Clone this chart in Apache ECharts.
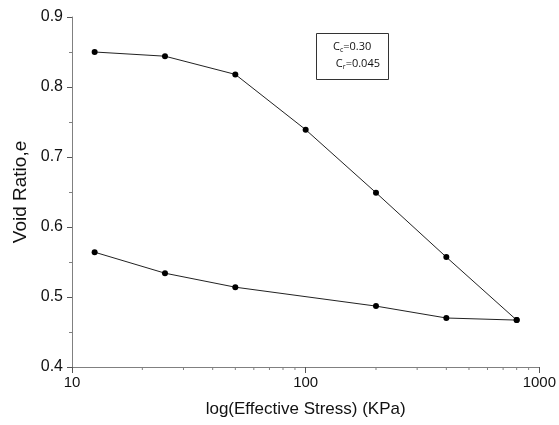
<!DOCTYPE html>
<html>
<head>
<meta charset="utf-8">
<script src="https://cdn.jsdelivr.net/npm/echarts@6/dist/echarts.min.js"></script>
<style>
  html, body { margin: 0; padding: 0; background: #fff; }
  #chart { width: 559px; height: 425px; }
</style>
</head>
<body>
<div id="chart"></div>
<script>
// Consolidation test: void ratio against effective stress (log scale)
const loadingStress = [12.5, 25, 50, 100, 200, 400, 800];
const loadingVoid = [0.850, 0.844, 0.818, 0.739, 0.649, 0.557, 0.467];
const unloadingStress = [12.5, 25, 50, 200, 400, 800];
const unloadingVoid = [0.564, 0.534, 0.514, 0.487, 0.470, 0.467];
const xTicks = [10, 100, 1000];
const xMinorTicks = [20, 30, 40, 50, 60, 70, 80, 90, 200, 300, 400, 500, 600, 700, 800, 900];
const yTicks = [0.4, 0.5, 0.6, 0.7, 0.8, 0.9];

const chart = echarts.init(document.getElementById('chart'), null, { renderer: 'canvas' });

const pair = (xs, ys) => xs.map((x, i) => [x, ys[i]]);
const axisGrey = '#808080';
const lineStyle = { color: '#222', width: 1 };

chart.setOption({
  animation: false,
  backgroundColor: '#fff',
  grid: { left: 72, right: 18, top: 17, bottom: 58 },
  xAxis: {
    type: 'log',
    logBase: 10,
    min: xTicks[0],
    max: xTicks[xTicks.length - 1],
    name: 'log(Effective Stress) (KPa)',
    nameLocation: 'middle',
    nameGap: 34,
    nameTextStyle: { fontFamily: 'Liberation Sans', fontSize: 17, color: '#111' },
    axisLine: { lineStyle: { color: axisGrey, width: 1 } },
    axisTick: { length: 6, lineStyle: { color: '#555' } },
    splitLine: { show: false },
    axisLabel: {
      fontFamily: 'Liberation Sans', fontSize: 15, color: '#111', margin: 8,
      formatter: v => String(Math.round(v))
    }
  },
  yAxis: {
    type: 'value',
    min: yTicks[0],
    max: yTicks[yTicks.length - 1],
    interval: 0.1,
    name: 'Void Ratio,e',
    nameLocation: 'middle',
    nameGap: 40,
    nameTextStyle: { fontFamily: 'Liberation Sans', fontSize: 19, color: '#111' },
    axisLine: { show: true, lineStyle: { color: axisGrey, width: 1 } },
    axisTick: { show: true, length: 5, lineStyle: { color: '#555' } },
    minorTick: { show: true, splitNumber: 2, length: 3, lineStyle: { color: axisGrey } },
    splitLine: { show: false },
    axisLabel: {
      fontFamily: 'Liberation Sans', fontSize: 16, color: '#111', margin: 9,
      formatter: v => v.toFixed(1)
    }
  },
  series: [
    {
      type: 'line',
      data: pair(loadingStress, loadingVoid),
      symbol: 'circle',
      symbolSize: 6,
      itemStyle: { color: '#000' },
      lineStyle: lineStyle
    },
    {
      type: 'line',
      data: pair(unloadingStress, unloadingVoid),
      symbol: 'circle',
      symbolSize: 6,
      itemStyle: { color: '#000' },
      lineStyle: lineStyle
    },
    {
      // minor ticks between the decades of the log axis
      type: 'custom',
      silent: true,
      clip: false,
      data: xMinorTicks.map(v => [v, yTicks[0]]),
      renderItem: (params, api) => {
        const p = api.coord([api.value(0), api.value(1)]);
        return {
          type: 'line',
          shape: { x1: p[0], y1: p[1], x2: p[0], y2: p[1] + 3 },
          style: { stroke: axisGrey, lineWidth: 1 }
        };
      }
    }
  ],
  graphic: [
    {
      type: 'rect',
      left: 316,
      top: 33,
      shape: { width: 72, height: 46 },
      style: { fill: '#fff', stroke: '#333', lineWidth: 1 }
    },
    {
      type: 'text',
      left: 333,
      top: 38,
      style: {
        text: 'C{s|c}=0.30\n C{s|r}=0.045',
        fontFamily: 'Open Sans',
        fontSize: 11,
        lineHeight: 17,
        fill: '#111',
        rich: {
          s: { fontFamily: 'Open Sans', fontSize: 7, padding: [6, 0, 0, 0], fill: '#111' }
        }
      }
    }
  ]
});
</script>
</body>
</html>
